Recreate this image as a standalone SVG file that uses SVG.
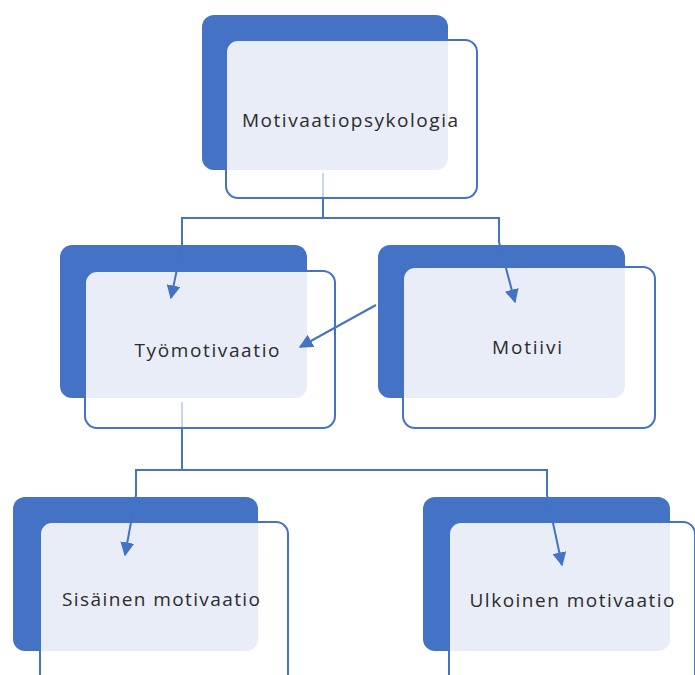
<svg xmlns="http://www.w3.org/2000/svg" width="695" height="675" viewBox="0 0 695 675">
<defs>
<style>
.dark{fill:#4472C4}
.bg{fill:#FFFFFF}
.light{fill:#E9EDF7}
.outline{fill:none;stroke:#4472C4;stroke-width:2}
.lbl{font-family:"Open Sans","Liberation Sans",sans-serif;font-size:19px;fill:#2B2B2B;text-anchor:middle}
.conn{fill:none;stroke:#4472C4;stroke-width:2}
.faint{fill:none;stroke:#C9D5EE;stroke-width:2}
</style>
<marker id="arr" viewBox="0 0 10 10" refX="9" refY="5" markerWidth="7" markerHeight="7" markerUnits="strokeWidth" orient="auto">
<path d="M0,0 L10,5 L0,10 Z" fill="#4472C4"/>
</marker>
</defs>
<rect width="695" height="675" fill="#FFFFFF"/>
<g id="node-motivaatiopsykologia">
<rect class="dark" x="202" y="15" width="246" height="155" rx="12"/>
<rect class="bg" x="226" y="40" width="251" height="158" rx="12"/>
<path class="light" d="M238,40 H448 V158 A12,12 0 0 1 436,170 H226 V52 A12,12 0 0 1 238,40 Z"/>
<rect class="outline" x="226" y="40" width="251" height="158" rx="12"/>
<text class="lbl" x="350" y="127" textLength="216" lengthAdjust="spacing">Motivaatiopsykologia</text>
</g>
<g id="node-tyomotivaatio">
<rect class="dark" x="60" y="245" width="247" height="153" rx="12"/>
<rect class="bg" x="85" y="271" width="250" height="157" rx="12"/>
<path class="light" d="M97,271 H307 V386 A12,12 0 0 1 295,398 H85 V283 A12,12 0 0 1 97,271 Z"/>
<rect class="outline" x="85" y="271" width="250" height="157" rx="12"/>
<text class="lbl" x="207" y="357" textLength="145" lengthAdjust="spacing">Työmotivaatio</text>
</g>
<g id="node-motiivi">
<rect class="dark" x="378" y="245" width="247" height="153" rx="12"/>
<rect class="bg" x="403" y="267" width="252" height="161" rx="12"/>
<path class="light" d="M415,267 H625 V386 A12,12 0 0 1 613,398 H403 V279 A12,12 0 0 1 415,267 Z"/>
<rect class="outline" x="403" y="267" width="252" height="161" rx="12"/>
<text class="lbl" x="527" y="354" textLength="70" lengthAdjust="spacing">Motiivi</text>
</g>
<g id="node-sisainen">
<rect class="dark" x="13" y="497" width="245" height="154" rx="12"/>
<rect class="bg" x="40" y="522" width="248" height="170" rx="12"/>
<path class="light" d="M52,522 H258 V639 A12,12 0 0 1 246,651 H40 V534 A12,12 0 0 1 52,522 Z"/>
<rect class="outline" x="40" y="522" width="248" height="170" rx="12"/>
<text class="lbl" x="161" y="606" textLength="198" lengthAdjust="spacing">Sisäinen motivaatio</text>
</g>
<g id="node-ulkoinen">
<rect class="dark" x="423" y="497" width="247" height="154" rx="12"/>
<rect class="bg" x="449" y="522" width="246" height="170" rx="12"/>
<path class="light" d="M461,522 H670 V639 A12,12 0 0 1 658,651 H449 V534 A12,12 0 0 1 461,522 Z"/>
<rect class="outline" x="449" y="522" width="246" height="170" rx="12"/>
<text class="lbl" x="572" y="607" textLength="205" lengthAdjust="spacing">Ulkoinen motivaatio</text>
</g>
<g id="connectors">
<line class="faint" x1="323" y1="173" x2="323" y2="197"/>
<path class="conn" d="M323,198 V218 H182 V245 L171,298" marker-end="url(#arr)"/>
<path class="conn" d="M323,218 H499 V242 L515,302" marker-end="url(#arr)"/>
<path class="conn" d="M376,305 L300,347" marker-end="url(#arr)"/>
<line class="faint" x1="182" y1="402" x2="182" y2="427"/>
<path class="conn" d="M182,428 V470 H136 V495 L125,555" marker-end="url(#arr)"/>
<path class="conn" d="M182,470 H547 V495 L562,565" marker-end="url(#arr)"/>
</g>
</svg>
